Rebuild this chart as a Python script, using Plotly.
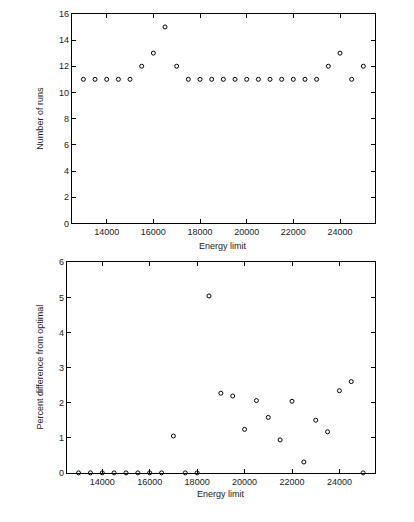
import plotly.graph_objects as go

energy = [13000, 13500, 14000, 14500, 15000, 15500, 16000, 16500, 17000, 17500,
          18000, 18500, 19000, 19500, 20000, 20500, 21000, 21500, 22000, 22500,
          23000, 23500, 24000, 24500, 25000]
runs = [11, 11, 11, 11, 11, 12, 13, 15, 12, 11,
        11, 11, 11, 11, 11, 11, 11, 11, 11, 11,
        11, 12, 13, 11, 12]
pct_diff = [0, 0, 0, 0, 0, 0, 0, 0, 1.05, 0,
            0, 5.04, 2.27, 2.19, 1.24, 2.06, 1.58, 0.94, 2.04, 0.31,
            1.50, 1.17, 2.34, 2.60, 0]

x_ticks = [14000, 16000, 18000, 20000, 22000, 24000]

W, H = 414, 522
font = dict(family="Liberation Sans, Arial, sans-serif", size=9, color="#222")

fig = go.Figure()
marker = dict(symbol="circle-open", size=4, color="black", line=dict(width=1, color="black"))
fig.add_trace(go.Scatter(x=energy, y=runs, mode="markers", marker=marker,
                         xaxis="x", yaxis="y", showlegend=False))
fig.add_trace(go.Scatter(x=energy, y=pct_diff, mode="markers", marker=marker,
                         xaxis="x2", yaxis="y2", showlegend=False, cliponaxis=False))

axis_common = dict(showline=True, linecolor="black", linewidth=1, mirror="allticks",
                   ticks="inside", ticklen=4, tickwidth=1, tickcolor="black",
                   showgrid=False, zeroline=False, tickfont=font)

top_l, top_r, top_t, top_b = 71.7, 375, 9, 222.7
bot_l, bot_r, bot_t, bot_b = 66.7, 375, 262.3, 477

fig.update_layout(
    width=W, height=H,
    margin=dict(l=0, r=0, t=0, b=0),
    paper_bgcolor="white", plot_bgcolor="white",
    font=font,
    xaxis=dict(domain=[top_l / W, top_r / W], range=[12500, 25500],
               tickvals=x_ticks, tickformat="d", anchor="y", **axis_common),
    yaxis=dict(domain=[1 - top_b / H, 1 - top_t / H], range=[0, 16], dtick=2,
               anchor="x", **axis_common),
    xaxis2=dict(domain=[bot_l / W, bot_r / W], range=[12500, 25500],
                tickvals=x_ticks, tickformat="d", anchor="y2", **axis_common),
    yaxis2=dict(domain=[1 - bot_b / H, 1 - bot_t / H], range=[0, 6], dtick=1,
                anchor="x2", **axis_common),
    annotations=[
        dict(text="Energy limit", x=(top_l + top_r) / 2 / W, y=1 - 246 / H,
             xref="paper", yref="paper", showarrow=False, font=font,
             xanchor="center", yanchor="middle"),
        dict(text="Energy limit", x=(bot_l + bot_r) / 2 / W, y=1 - 499 / H,
             xref="paper", yref="paper", showarrow=False, font=font,
             xanchor="center", yanchor="middle"),
        dict(text="Number of runs", x=40 / W, y=1 - (top_t + top_b) / 2 / H,
             xref="paper", yref="paper", showarrow=False, font=font, textangle=-90,
             xanchor="center", yanchor="middle"),
        dict(text="Percent difference from optimal", x=40 / W, y=1 - (bot_t + bot_b) / 2 / H,
             xref="paper", yref="paper", showarrow=False, font=font, textangle=-90,
             xanchor="center", yanchor="middle"),
    ],
)

fig.write_html("out.html")
